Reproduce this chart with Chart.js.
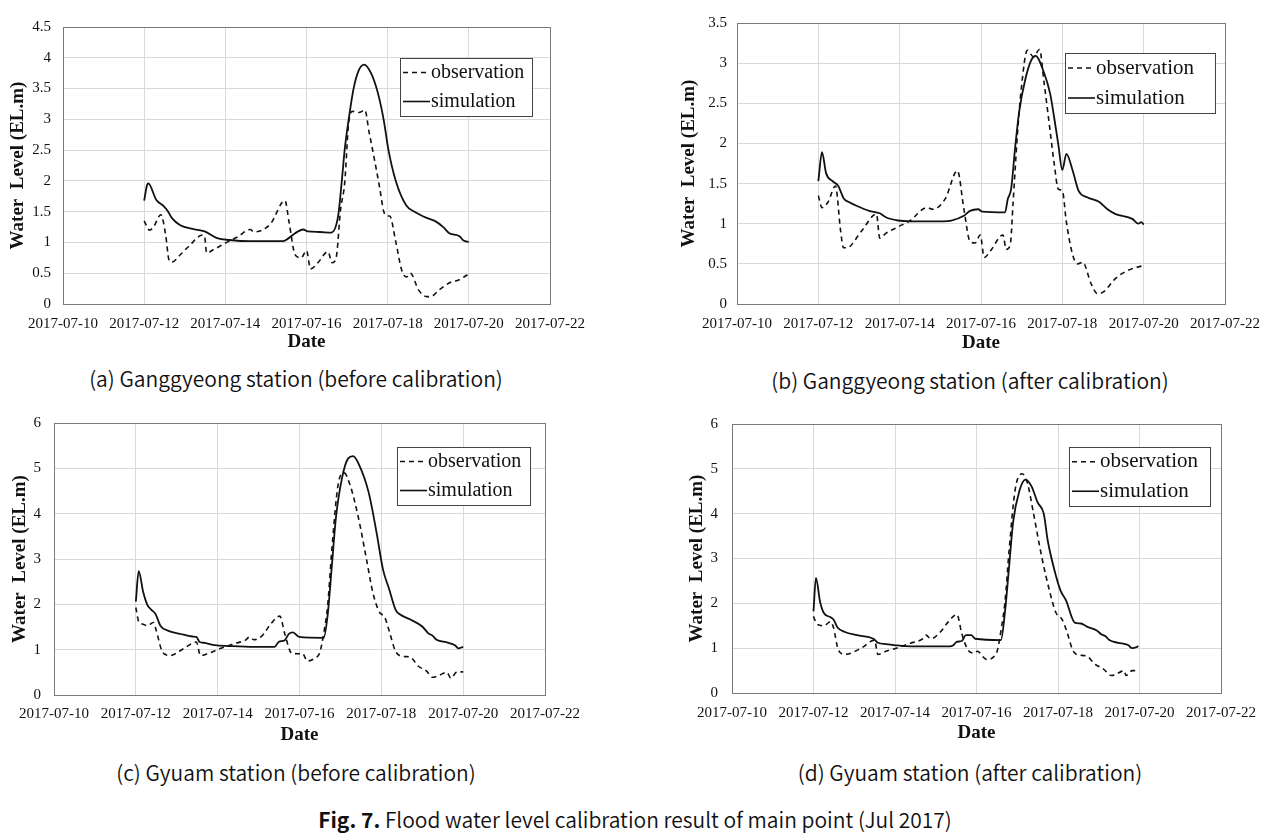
<!DOCTYPE html>
<html>
<head>
<meta charset="utf-8">
<script src="https://cdn.jsdelivr.net/npm/chart.js@4.4.1/dist/chart.umd.min.js"></script>
<style>
  body { margin: 0; background: #fff; width: 1272px; height: 836px; position: relative; overflow: hidden; }
  canvas { position: absolute; }
  .cap { position: absolute; transform: translate(-50%, -50%); white-space: nowrap;
         font-family: "Noto Sans CJK KR", "Noto Sans", sans-serif; font-weight: 350; font-size: 21px; color: #111; }
  .cap b { font-weight: 700; }
</style>
</head>
<body>
<canvas id="chartA"></canvas>
<canvas id="chartB"></canvas>
<canvas id="chartC"></canvas>
<canvas id="chartD"></canvas>
<div class="cap" style="left:296px; top:378px">(a) Ganggyeong station (before calibration)</div>
<div class="cap" style="left:970px; top:380px">(b) Ganggyeong station (after calibration)</div>
<div class="cap" style="left:296px; top:772px">(c) Gyuam station (before calibration)</div>
<div class="cap" style="left:970px; top:772px">(d) Gyuam station (after calibration)</div>
<div class="cap" style="left:635px; top:819px"><b>Fig. 7.</b> Flood water level calibration result of main point (Jul 2017)</div>

<script>
// x values are days after 2017-07-10 00:00
const dateTicks = ['2017-07-10', '2017-07-12', '2017-07-14', '2017-07-16', '2017-07-18', '2017-07-20', '2017-07-22'];
const seriesNames = ['observation', 'simulation'];

// (a) Ganggyeong, before calibration
const aObsDay = [2.0, 2.13, 2.23, 2.41, 2.53, 2.61, 2.68, 2.89, 3.09, 3.44, 3.49, 3.54, 3.70, 4.0, 4.30, 4.61, 4.71, 5.11, 5.47, 5.57, 5.72, 5.87, 6.0, 6.10, 6.28, 6.53, 6.63, 6.73, 6.84, 6.94, 7.04, 7.14, 7.29, 7.44, 7.54, 7.65, 7.80, 7.90, 8.0, 8.05, 8.20, 8.35, 8.46, 8.56, 8.76, 8.96, 9.06, 9.27, 9.57, 9.72, 10.0];
const aObsLevel = [1.35, 1.20, 1.25, 1.45, 1.12, 0.72, 0.68, 0.80, 0.93, 1.12, 1.09, 0.83, 0.88, 0.99, 1.09, 1.21, 1.17, 1.30, 1.68, 1.33, 0.80, 0.75, 0.87, 0.57, 0.67, 0.85, 0.67, 0.75, 1.54, 1.96, 2.95, 3.13, 3.11, 3.15, 2.80, 2.43, 1.90, 1.51, 1.43, 1.43, 1.01, 0.54, 0.44, 0.50, 0.23, 0.12, 0.12, 0.23, 0.36, 0.38, 0.49];
const aSimDay = [2.0, 2.07, 2.1, 2.30, 2.48, 2.58, 2.68, 2.89, 3.19, 3.49, 3.80, 4.10, 4.61, 5.42, 5.52, 5.72, 5.92, 6.03, 6.33, 6.61, 6.78, 6.87, 6.94, 7.04, 7.16, 7.29, 7.42, 7.59, 7.75, 7.90, 8.02, 8.20, 8.46, 8.66, 8.96, 9.16, 9.37, 9.52, 9.77, 9.87, 10.0];
const aSimLevel = [1.68, 1.93, 1.96, 1.69, 1.59, 1.51, 1.40, 1.28, 1.22, 1.18, 1.07, 1.04, 1.02, 1.02, 1.05, 1.15, 1.21, 1.18, 1.17, 1.16, 1.43, 2.0, 2.5, 3.0, 3.5, 3.8, 3.89, 3.75, 3.45, 3.0, 2.5, 2.0, 1.6, 1.5, 1.4, 1.35, 1.25, 1.15, 1.10, 1.03, 1.01];

// (b) Ganggyeong, after calibration
const bObsDay = [2.0, 2.09, 2.24, 2.42, 2.55, 2.62, 2.70, 3.05, 3.43, 3.51, 3.66, 3.96, 4.26, 4.67, 4.82, 5.12, 5.42, 5.58, 5.73, 5.86, 5.98, 6.08, 6.23, 6.54, 6.62, 6.72, 6.79, 6.89, 6.99, 7.14, 7.29, 7.44, 7.55, 7.65, 7.80, 7.90, 8.0, 8.10, 8.25, 8.38, 8.50, 8.71, 8.86, 9.01, 9.31, 9.62, 10.0];
const bObsLevel = [1.35, 1.20, 1.27, 1.47, 0.90, 0.70, 0.70, 0.90, 1.12, 0.82, 0.88, 0.96, 1.04, 1.20, 1.18, 1.31, 1.66, 1.18, 0.78, 0.76, 0.86, 0.58, 0.66, 0.86, 0.68, 0.74, 1.27, 2.07, 2.68, 3.16, 3.08, 3.17, 2.76, 2.36, 1.75, 1.43, 1.41, 1.02, 0.62, 0.50, 0.52, 0.25, 0.13, 0.15, 0.32, 0.42, 0.48];
const bSimDay = [2.0, 2.09, 2.19, 2.35, 2.49, 2.63, 2.75, 2.95, 3.25, 3.51, 3.66, 3.96, 4.26, 5.07, 5.27, 5.58, 5.73, 5.93, 6.03, 6.59, 6.66, 6.74, 6.84, 6.94, 7.09, 7.24, 7.34, 7.55, 7.70, 7.80, 7.90, 8.0, 8.10, 8.25, 8.40, 8.61, 8.91, 9.11, 9.31, 9.72, 9.87, 9.94, 10.0];
const bSimLevel = [1.53, 1.89, 1.63, 1.53, 1.47, 1.31, 1.27, 1.22, 1.16, 1.13, 1.08, 1.04, 1.03, 1.03, 1.04, 1.10, 1.16, 1.18, 1.15, 1.14, 1.31, 1.43, 1.95, 2.40, 2.80, 3.04, 3.09, 2.88, 2.62, 2.32, 1.99, 1.67, 1.87, 1.67, 1.41, 1.33, 1.27, 1.18, 1.12, 1.06, 1.00, 1.02, 0.99];

// (c) Gyuam, before calibration
const cObsDay = [2.0, 2.07, 2.18, 2.28, 2.43, 2.50, 2.63, 2.73, 2.83, 3.18, 3.48, 3.58, 3.78, 4.08, 4.43, 4.68, 4.78, 4.88, 5.09, 5.29, 5.52, 5.64, 5.81, 5.99, 6.07, 6.19, 6.39, 6.49, 6.59, 6.69, 6.79, 6.94, 7.09, 7.24, 7.44, 7.64, 7.79, 7.94, 8.09, 8.19, 8.35, 8.55, 8.70, 8.90, 9.10, 9.25, 9.40, 9.60, 9.70, 9.85, 10.0];
const cObsLevel = [1.93, 1.62, 1.56, 1.53, 1.60, 1.42, 0.99, 0.89, 0.87, 1.03, 1.17, 0.87, 0.92, 1.03, 1.14, 1.21, 1.28, 1.22, 1.31, 1.56, 1.74, 1.35, 0.92, 0.91, 0.92, 0.75, 0.82, 0.92, 1.35, 1.99, 3.20, 4.62, 4.90, 4.62, 3.91, 2.98, 2.27, 1.85, 1.70, 1.42, 0.96, 0.85, 0.84, 0.64, 0.53, 0.39, 0.43, 0.50, 0.37, 0.51, 0.51];
const cSimDay = [2.0, 2.07, 2.18, 2.28, 2.38, 2.48, 2.60, 2.78, 3.08, 3.38, 3.48, 3.56, 3.68, 3.93, 4.28, 4.88, 5.39, 5.49, 5.64, 5.74, 5.84, 5.99, 6.59, 6.69, 6.79, 6.89, 7.04, 7.19, 7.31, 7.44, 7.69, 7.89, 8.04, 8.19, 8.35, 8.45, 8.70, 9.00, 9.15, 9.25, 9.35, 9.60, 9.80, 9.88, 10.0];
const cSimLevel = [2.06, 2.73, 2.27, 1.99, 1.88, 1.79, 1.53, 1.42, 1.35, 1.29, 1.28, 1.17, 1.15, 1.10, 1.08, 1.06, 1.06, 1.17, 1.21, 1.35, 1.38, 1.28, 1.26, 1.78, 2.84, 3.91, 4.79, 5.22, 5.27, 5.11, 4.47, 3.55, 2.77, 2.34, 1.88, 1.78, 1.67, 1.51, 1.36, 1.31, 1.22, 1.16, 1.10, 1.03, 1.06];

// (d) Gyuam, after calibration
const dObsDay = [2.0, 2.08, 2.25, 2.42, 2.49, 2.61, 2.77, 3.17, 3.50, 3.58, 3.78, 4.03, 4.38, 4.68, 4.76, 4.88, 5.14, 5.29, 5.52, 5.64, 5.79, 5.94, 6.02, 6.24, 6.49, 6.60, 6.70, 6.80, 6.95, 7.12, 7.25, 7.40, 7.60, 7.80, 7.95, 8.10, 8.21, 8.36, 8.46, 8.71, 8.91, 9.11, 9.31, 9.41, 9.62, 9.67, 9.82, 9.97];
const dObsLevel = [1.71, 1.54, 1.50, 1.59, 1.46, 0.96, 0.86, 1.0, 1.18, 0.86, 0.93, 1.0, 1.11, 1.21, 1.29, 1.21, 1.39, 1.57, 1.75, 1.32, 0.96, 0.89, 0.93, 0.75, 0.89, 1.39, 2.04, 3.18, 4.54, 4.89, 4.68, 4.0, 3.04, 2.25, 1.79, 1.64, 1.39, 0.96, 0.86, 0.82, 0.64, 0.54, 0.39, 0.41, 0.50, 0.39, 0.50, 0.50];
const dSimDay = [2.0, 2.06, 2.16, 2.25, 2.42, 2.49, 2.59, 2.77, 3.07, 3.47, 3.58, 3.78, 3.97, 4.38, 5.34, 5.44, 5.51, 5.64, 5.74, 5.87, 5.97, 6.60, 6.70, 6.80, 6.90, 7.05, 7.20, 7.35, 7.50, 7.65, 7.75, 7.91, 8.06, 8.21, 8.33, 8.41, 8.56, 8.71, 8.96, 9.06, 9.16, 9.26, 9.47, 9.72, 9.82, 9.92, 9.97];
const dSimLevel = [1.82, 2.57, 2.04, 1.79, 1.69, 1.64, 1.46, 1.36, 1.29, 1.21, 1.12, 1.09, 1.07, 1.04, 1.04, 1.07, 1.14, 1.16, 1.29, 1.29, 1.21, 1.18, 1.82, 2.82, 3.82, 4.50, 4.76, 4.61, 4.25, 4.00, 3.39, 2.75, 2.29, 2.04, 1.71, 1.57, 1.55, 1.48, 1.39, 1.31, 1.27, 1.18, 1.12, 1.07, 1.00, 1.02, 1.05];

const toPoints = (days, levels) => days.map((d, i) => ({ x: d, y: levels[i] }));

// plot frame + boxed legend inside the plot
const framePlugin = {
  id: 'frame',
  afterDatasetsDraw(chart, args, opts) {
    const { ctx, chartArea: a } = chart;
    ctx.save();
    ctx.strokeStyle = '#7a7a7a';
    ctx.lineWidth = 1;
    ctx.strokeRect(a.left + 0.5, a.top + 0.5, a.right - a.left, a.bottom - a.top);

    const lg = opts.legend;
    const x = a.right - lg.right - lg.w, y = a.top + lg.top;
    ctx.fillStyle = '#fff';
    ctx.fillRect(x, y, lg.w, lg.h);
    ctx.strokeStyle = '#444';
    ctx.strokeRect(x + 0.5, y + 0.5, lg.w, lg.h);
    ctx.font = lg.font + 'px "Liberation Serif", serif';
    ctx.textBaseline = 'middle';
    ctx.fillStyle = '#111';
    chart.data.datasets.forEach((ds, i) => {
      const ry = y + lg.h * (i === 0 ? 0.25 : 0.75);
      ctx.strokeStyle = '#111';
      ctx.lineWidth = 1.6;
      ctx.setLineDash(ds.borderDash || []);
      ctx.beginPath();
      ctx.moveTo(x + 3, ry);
      ctx.lineTo(x + 30, ry);
      ctx.stroke();
      ctx.setLineDash([]);
      ctx.fillText(ds.label, x + 31, ry);
    });
    ctx.restore();
  }
};

function makeChart(id, L, obs, sim) {
  const canvasLeft = L.titleX - 13;
  const canvasTop = L.plotT - 12;
  const canvasBottom = L.dateY + 13;
  const el = document.getElementById(id);
  el.width = L.plotR + 50 - canvasLeft;
  el.height = canvasBottom - canvasTop;
  el.style.left = canvasLeft + 'px';
  el.style.top = canvasTop + 'px';

  new Chart(el.getContext('2d'), {
    type: 'line',
    data: {
      datasets: [
        { label: seriesNames[0], data: obs, borderColor: '#111', borderWidth: 1.6, borderDash: [5, 4],
          pointRadius: 0, cubicInterpolationMode: 'monotone', fill: false },
        { label: seriesNames[1], data: sim, borderColor: '#111', borderWidth: 1.8,
          pointRadius: 0, cubicInterpolationMode: 'monotone', fill: false }
      ]
    },
    options: {
      responsive: false,
      animation: false,
      devicePixelRatio: 1,
      layout: { padding: { top: 12, right: 50, left: 0, bottom: 0 } },
      plugins: {
        legend: { display: false },
        tooltip: { enabled: false },
        frame: { legend: L.legend }
      },
      scales: {
        x: {
          type: 'linear', min: 0, max: 12,
          afterFit: s => { s.height = canvasBottom - L.plotB; },
          ticks: { stepSize: 2, maxRotation: 0, autoSkip: false, padding: L.xPad, color: '#111',
                   font: { family: '"Liberation Serif", serif', size: 15 },
                   callback: v => dateTicks[v / 2] },
          grid: { color: '#d9d9d9', drawTicks: false },
          border: { display: false },
          title: { display: true, text: 'Date', color: '#111', padding: { top: 0, bottom: 2 },
                   font: { family: '"Liberation Serif", serif', size: 19, weight: 'bold' } }
        },
        y: {
          min: 0, max: L.yMax,
          afterFit: s => { s.width = L.plotL - canvasLeft; },
          ticks: { stepSize: L.yStep, padding: L.yPad, color: '#111',
                   font: { family: '"Liberation Serif", serif', size: 15 },
                   callback: v => String(+v.toFixed(2)) },
          grid: { color: '#d9d9d9', drawTicks: false },
          border: { display: false },
          title: { display: true, text: 'Water  Level (EL.m)', color: '#111', padding: { top: 2, bottom: 0 },
                   font: { family: '"Liberation Serif", serif', size: 19, weight: 'bold' } }
        }
      }
    },
    plugins: [framePlugin]
  });
}

makeChart('chartA', { plotL: 63, plotR: 550, plotT: 18, plotB: 304, titleX: 18, yPad: 12, xPad: 11, dateY: 342,
  yMax: 4.5, yStep: 0.5, legend: { right: 18, top: 31, w: 132, h: 58, font: 20 } },
  toPoints(aObsDay, aObsLevel), toPoints(aSimDay, aSimLevel));
makeChart('chartB', { plotL: 737, plotR: 1225, plotT: 16, plotB: 304, titleX: 689, yPad: 10, xPad: 11, dateY: 343,
  yMax: 3.5, yStep: 0.5, legend: { right: 10, top: 30, w: 150, h: 60, font: 21 } },
  toPoints(bObsDay, bObsLevel), toPoints(bSimDay, bSimLevel));
makeChart('chartC', { plotL: 54, plotR: 545, plotT: 413, plotB: 695, titleX: 20, yPad: 13, xPad: 10, dateY: 735,
  yMax: 6, yStep: 1, legend: { right: 15, top: 24, w: 133, h: 58, font: 20 } },
  toPoints(cObsDay, cObsLevel), toPoints(cSimDay, cSimLevel));
makeChart('chartD', { plotL: 732, plotR: 1221, plotT: 413, plotB: 693, titleX: 697, yPad: 14, xPad: 11, dateY: 733,
  yMax: 6, yStep: 1, legend: { right: 11, top: 23, w: 141, h: 59, font: 21 } },
  toPoints(dObsDay, dObsLevel), toPoints(dSimDay, dSimLevel));
</script>
</body>
</html>
